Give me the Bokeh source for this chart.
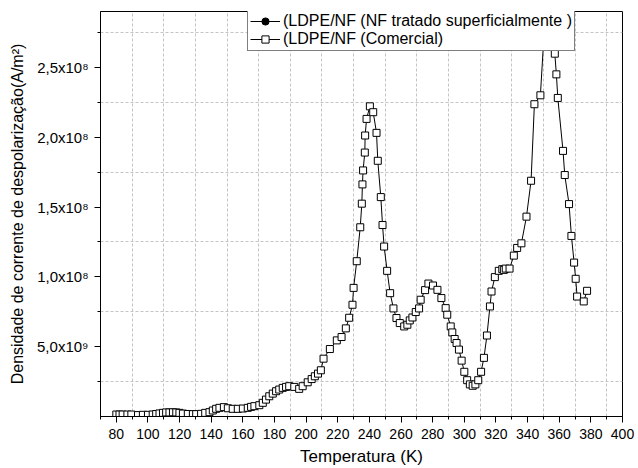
from bokeh.plotting import figure
from bokeh.models import FixedTicker, Range1d, Legend, LegendItem, ColumnDataSource
from bokeh.embed import file_html
from bokeh.resources import INLINE

# Temperature (K)
temp_comercial = [80, 82, 84, 87, 89.5, 93.7, 96.8, 100, 103, 105.2, 107.3, 109.5, 111.5, 113.6,
                  115.8, 117.9, 119.9, 122.1, 125.2, 128.4, 130.5, 133.6, 136.2, 138.9, 141,
                  143.1, 145.2, 148, 150.5, 153.6, 156.8, 160, 163.1, 165.2, 167.3, 170.4,
                  172.6, 174.6, 176.7, 178.9, 181, 183, 185.2, 187.3, 189.3, 192.5, 195.6,
                  197.8, 201, 203.5, 205.5, 207.5, 209.3, 211, 215, 219.4, 222.4, 225.1,
                  227.2, 229.3, 230, 232, 234.2, 235.2, 235.6, 236, 237.1, 237.3, 238.2,
                  240.3, 242.4, 244.5, 245.3, 247.2, 248.3, 249.3, 251.2, 253.1, 255.2,
                  257.1, 259.2, 262, 264, 265.5, 267.2, 269.3, 271.4, 272.4, 275.2, 277.3,
                  280.2, 283, 285.5, 288.2, 289.2, 291.4, 292.4, 293.9, 295.1, 296.6,
                  298.3, 300, 301.8, 303.5, 305.3, 307, 308.8, 310.6, 312.4, 314.3, 316.2,
                  317.2, 319.3, 321.8, 324, 325, 326.2, 328.6, 331.3, 333.4, 336.1, 339.3,
                  342.2, 344.3, 348.1, 351.5, 354, 357.2, 358.2, 359.1, 362.4, 363.5,
                  366.2, 367.7, 369.4, 370.4, 371.3, 375.5, 377.6]
# Current density, units of 1e8 A/m^2
dens_comercial = [0.014, 0.014, 0.014, 0.014, 0.014, 0.010, 0.012, 0.012, 0.014, 0.018, 0.022,
                  0.026, 0.029, 0.029, 0.030, 0.029, 0.026, 0.021, 0.018, 0.017, 0.017, 0.019,
                  0.026, 0.031, 0.043, 0.055, 0.062, 0.067, 0.059, 0.055, 0.055, 0.057, 0.062,
                  0.069, 0.074, 0.081, 0.098, 0.121, 0.145, 0.164, 0.181, 0.193, 0.205, 0.212,
                  0.217, 0.212, 0.198, 0.217, 0.245, 0.268, 0.288, 0.307, 0.331, 0.414, 0.483,
                  0.545, 0.569, 0.631, 0.707, 0.800, 0.921, 1.112, 1.355, 1.524, 1.662, 1.762,
                  1.890, 2.012, 2.131, 2.221, 2.179, 2.031, 1.831, 1.571, 1.371, 1.217, 1.043,
                  0.883, 0.774, 0.705, 0.669, 0.645, 0.657, 0.688, 0.709, 0.748, 0.774, 0.836,
                  0.905, 0.952, 0.938, 0.907, 0.848, 0.776, 0.729, 0.645, 0.602, 0.555, 0.526,
                  0.479, 0.400, 0.320, 0.260, 0.230, 0.220, 0.230, 0.260, 0.320, 0.420, 0.580,
                  0.788, 0.895, 0.998, 1.043, 1.055, 1.050, 1.059, 1.059, 1.152, 1.207, 1.240,
                  1.431, 1.688, 2.236, 2.300, 2.950, 3.050, 2.598, 2.450, 2.281, 1.902, 1.729,
                  1.521, 1.293, 1.102, 0.986, 0.859, 0.824, 0.900]

# The surface-treated series is not visible in the figure (only its legend entry)
temp_tratado = [float("nan")]
dens_tratado = [float("nan")]

x_major = list(range(80, 401, 20))
x_minor = list(range(70, 400, 20))
y_major = [0.5e8, 1.0e8, 1.5e8, 2.0e8, 2.5e8]
y_minor = [0.25e8, 0.75e8, 1.25e8, 1.75e8, 2.25e8, 2.75e8]
y_labels = ["5,0x10\u2079", "1,0x10\u2078", "1,5x10\u2078", "2,0x10\u2078", "2,5x10\u2078"]

labels_legend = ["(LDPE/NF (NF tratado superficialmente )", "(LDPE/NF (Comercial)"]

FONT = "Liberation Sans"

p = figure(width=638, height=468, output_backend="svg", toolbar_location=None,
           x_range=Range1d(70, 400), y_range=Range1d(0, 2.9e8),
           min_border_left=100, min_border_right=16, min_border_top=11, min_border_bottom=51)

p.outline_line_color = "black"
p.outline_line_width = 1

src_c = ColumnDataSource(dict(x=temp_comercial, y=[v * 1e8 for v in dens_comercial]))
src_t = ColumnDataSource(dict(x=temp_tratado, y=[v * 1e8 for v in dens_tratado]))

l_t = p.line("x", "y", source=src_t, line_color="black", line_width=1)
s_t = p.scatter("x", "y", source=src_t, marker="circle", size=6, fill_color="black",
                line_color="black")
l_c = p.line("x", "y", source=src_c, line_color="black", line_width=1)
s_c = p.scatter("x", "y", source=src_c, marker="square", size=7, fill_color="white",
                line_color="black", line_width=1)

# axes
p.xaxis.ticker = FixedTicker(ticks=x_major, minor_ticks=x_minor)
p.yaxis.ticker = FixedTicker(ticks=y_major, minor_ticks=y_minor)
p.yaxis.major_label_overrides = {t: l for t, l in zip(y_major, y_labels)}
for ax in (p.xaxis[0], p.yaxis[0]):
    ax.major_tick_out = 6
    ax.major_tick_in = 0
    ax.minor_tick_out = 3
    ax.minor_tick_in = 0
    ax.axis_line_color = "black"
    ax.major_tick_line_color = "black"
    ax.minor_tick_line_color = "black"
    ax.major_label_text_font = FONT
    ax.major_label_text_color = "black"
    ax.axis_label_text_font = FONT
    ax.axis_label_text_font_style = "normal"
    ax.axis_label_text_color = "black"
p.xaxis.major_label_text_font_size = "14px"
p.yaxis.major_label_text_font_size = "15px"
p.xaxis.axis_label_text_font_size = "17px"
p.yaxis.axis_label_text_font_size = "16px"
p.xaxis.axis_label = "Temperatura (K)"
p.yaxis.axis_label = "Densidade de corrente de despolarização(A/m²)"
p.xaxis.major_label_standoff = 6
p.xaxis.axis_label_standoff = 5
p.yaxis.major_label_standoff = 6
p.yaxis.axis_label_standoff = 8

# grids on minor positions
p.xgrid.ticker = FixedTicker(ticks=list(range(90, 400, 20)))
p.ygrid.ticker = FixedTicker(ticks=y_minor)
for g in (p.xgrid[0], p.ygrid[0]):
    g.grid_line_color = "#c4c4c4"
    g.grid_line_dash = "3 2"
    g.grid_line_width = 1

legend = Legend(items=[LegendItem(label=labels_legend[0], renderers=[l_t, s_t]),
                       LegendItem(label=labels_legend[1], renderers=[l_c, s_c])],
                location=(147, 365))
legend.label_text_font = FONT
legend.label_text_font_size = "16px"
legend.label_text_color = "black"
legend.border_line_color = "black"
legend.border_line_width = 1
legend.background_fill_color = "white"
legend.background_fill_alpha = 1
legend.glyph_width = 30
legend.glyph_height = 18
legend.label_height = 18
legend.label_standoff = 3
legend.padding = 2
legend.spacing = 0
legend.margin = 0
p.add_layout(legend)

open("out.html", "w").write(file_html(p, INLINE))
